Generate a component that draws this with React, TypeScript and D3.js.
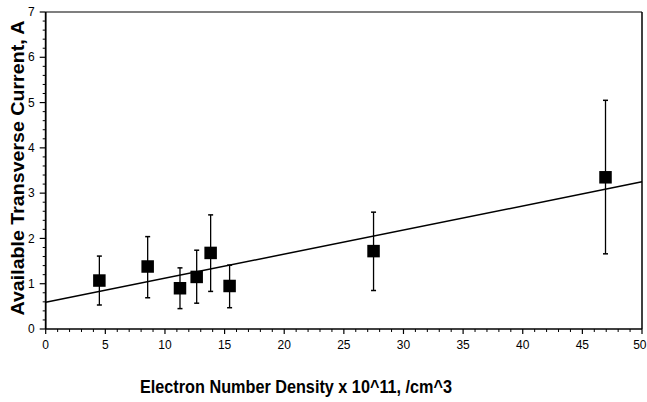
import React from "react";
import * as d3 from "d3";

const xValues = [4.5, 8.55, 11.26, 12.66, 13.83, 15.42, 27.49, 46.94];
const yValues = [1.07, 1.38, 0.9, 1.15, 1.68, 0.95, 1.72, 3.35];
const yHigh = [1.61, 2.04, 1.35, 1.74, 2.52, 1.41, 2.58, 5.05];
const yLow = [0.53, 0.69, 0.45, 0.57, 0.83, 0.47, 0.85, 1.66];
const fitIntercept = 0.59;
const fitSlope = 0.0532;
const xTicks = [0, 5, 10, 15, 20, 25, 30, 35, 40, 45, 50];
const yTicks = [0, 1, 2, 3, 4, 5, 6, 7];
const xTitle = "Electron Number Density x 10^11, /cm^3";
const yTitle = "Available Transverse Current, A";

export default function App() {
  const W = 647, H = 402;
  const left = 45.7, right = 642, top = 12, bottom = 329;
  const x = d3.scaleLinear().domain([0, 50]).range([left, right]);
  const y = d3.scaleLinear().domain([0, 7]).range([bottom, top]);
  const xMinor = d3.range(0, 50.01, 1).filter((v) => v % 5 !== 0);
  const yMinor = d3.range(0, 7.001, 0.2).filter((v) => Math.abs(v - Math.round(v)) > 0.01);
  const line = d3.line<number>().x((v) => x(v)).y((v) => y(fitIntercept + fitSlope * v));
  const font = "'Liberation Sans', Arial, Helvetica, sans-serif";
  const sq = 12.5;
  return (
    <div style={{ position: "fixed", left: 0, top: 0, width: W, height: H, background: "#fff" }}>
      <svg width={W} height={H} style={{ display: "block" }} fontFamily={font}>
        <rect x={0} y={0} width={W} height={H} fill="#fff" />
        {/* frame */}
        <line x1={left} y1={top} x2={right} y2={top} stroke="#000" strokeWidth={1.2} />
        <line x1={right} y1={top} x2={right} y2={bottom} stroke="#000" strokeWidth={1.5} />
        <line x1={left} y1={top} x2={left} y2={bottom} stroke="#000" strokeWidth={1.8} />
        <line x1={left} y1={bottom} x2={right} y2={bottom} stroke="#000" strokeWidth={1.5} />
        {/* y ticks */}
        {yTicks.map((t) => (
          <g key={"yt" + t}>
            <line x1={left - 6} x2={left} y1={y(t)} y2={y(t)} stroke="#000" strokeWidth={1.2} />
            <text x={left - 11} y={y(t)} dy="0.35em" textAnchor="end" fontSize={12}>{t}</text>
          </g>
        ))}
        {yMinor.map((t, i) => (
          <line key={"ym" + i} x1={left - 3} x2={left} y1={y(t)} y2={y(t)} stroke="#000" strokeWidth={1} />
        ))}
        {/* x ticks */}
        {xTicks.map((t, i) => {
          const last = i === xTicks.length - 1;
          return (
            <g key={"xt" + t}>
              <line x1={x(t)} x2={x(t)} y1={bottom} y2={bottom + 5} stroke="#000" strokeWidth={1.2} />
              <text x={last ? W - 0.5 : x(t)} y={bottom + 20} textAnchor={last ? "end" : "middle"} fontSize={12}>{t}</text>
            </g>
          );
        })}
        {xMinor.map((t, i) => (
          <line key={"xm" + i} x1={x(t)} x2={x(t)} y1={bottom} y2={bottom + 3} stroke="#000" strokeWidth={1} />
        ))}
        {/* fit line */}
        <path d={line([0, 50]) || ""} fill="none" stroke="#000" strokeWidth={1.5} />
        {/* error bars and points */}
        {xValues.map((xv, i) => (
          <g key={"p" + i}>
            <line x1={x(xv)} x2={x(xv)} y1={y(yHigh[i])} y2={y(yLow[i])} stroke="#000" strokeWidth={1.3} />
            <line x1={x(xv) - 2.5} x2={x(xv) + 2.5} y1={y(yHigh[i])} y2={y(yHigh[i])} stroke="#000" strokeWidth={1.5} />
            <line x1={x(xv) - 2.5} x2={x(xv) + 2.5} y1={y(yLow[i])} y2={y(yLow[i])} stroke="#000" strokeWidth={1.5} />
            <rect x={x(xv) - sq / 2} y={y(yValues[i]) - sq / 2} width={sq} height={sq} fill="#000" />
          </g>
        ))}
        {/* titles */}
        <text x={296} y={393} textAnchor="middle" fontSize={18} fontWeight="bold" textLength={312} lengthAdjust="spacingAndGlyphs">{xTitle}</text>
        <text transform={`translate(24,168) rotate(-90)`} textAnchor="middle" fontSize={19} fontWeight="bold" textLength={295} lengthAdjust="spacingAndGlyphs">{yTitle}</text>
      </svg>
    </div>
  );
}
